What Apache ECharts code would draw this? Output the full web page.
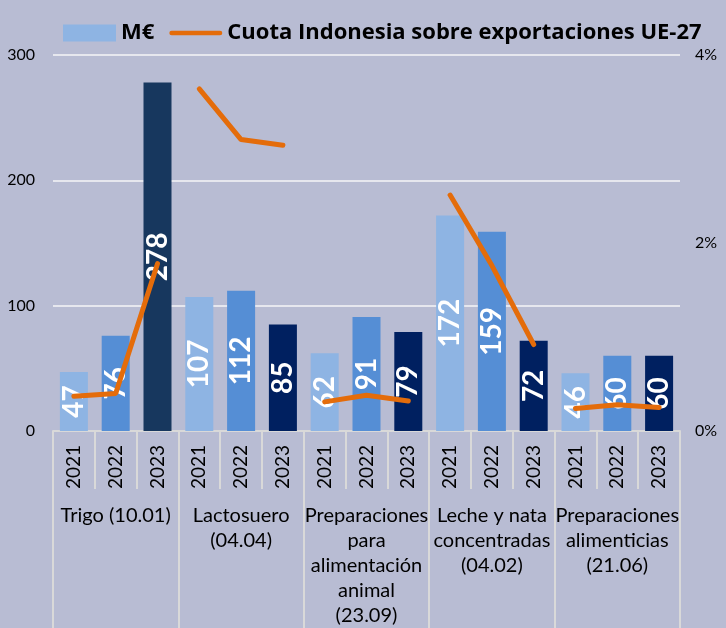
<!DOCTYPE html>
<html>
<head>
<meta charset="utf-8">
<script src="https://cdn.jsdelivr.net/npm/echarts@6/dist/echarts.min.js"></script>
<style>
  html, body { margin: 0; padding: 0; background: #b8bcd3; }
  #main { width: 726px; height: 628px; }
</style>
</head>
<body>
<div id="main"></div>
<script>
// grupos de producto y años
var groups = ['Trigo (10.01)', 'Lactosuero\n(04.04)', 'Preparaciones\npara\nalimentación\nanimal\n(23.09)', 'Leche y nata\nconcentradas\n(04.02)', 'Preparaciones\nalimenticias\n(21.06)'];
var years = ['2021', '2022', '2023'];
// M€ por grupo y año (en orden)
var valuesMEur = [47, 76, 278, 107, 112, 85, 62, 91, 79, 172, 159, 72, 46, 60, 60];
// cuota Indonesia sobre exportaciones UE-27 (%)
var sharePct = [0.37, 0.40, 1.78, 3.64, 3.10, 3.04, 0.31, 0.38, 0.32, 2.51, 1.76, 0.92, 0.24, 0.28, 0.25];

var yearColors = ['#8eb4e3', '#558ed5', '#002060'];
var lineName = 'Cuota Indonesia sobre exportaciones UE-27';
var FONT = 'Lato';

var xYears = [];
groups.forEach(function () { years.forEach(function (y) { xYears.push(y); }); });

var barData = valuesMEur.map(function (v, i) {
    var c = yearColors[i % 3];
    if (i === 2) c = '#17375e'; // Trigo 2023 un poco distinto
    return { value: v, itemStyle: { color: c } };
});

// una serie de línea por grupo para que no se unan
var lineSeries = groups.map(function (g, gi) {
    var d = sharePct.map(function (v, i) {
        return Math.floor(i / 3) === gi ? v / 100 : null;
    });
    return {
        type: 'line',
        name: lineName,
        yAxisIndex: 1,
        data: d,
        symbol: 'none',
        z: 5,
        lineStyle: { color: '#e46c0a', width: 5, cap: 'round' },
        itemStyle: { color: '#e46c0a' }
    };
});

var myChart = echarts.init(document.getElementById('main'));
var option = {
    backgroundColor: '#b8bcd3',
    textStyle: { fontFamily: FONT },
    legend: {
        left: 63,
        top: 22,
        width: 663,
        padding: 0,
        itemWidth: 53,
        itemHeight: 17,
        itemGap: 15,
        textStyle: { fontSize: 22, fontWeight: 'bold', color: '#000', fontFamily: 'Open Sans' },
        data: [
            { name: 'M€', icon: 'rect', itemStyle: { color: '#8eb4e3' } },
            { name: lineName, icon: 'path://M2.5,0 L54.5,0 A2.5,2.5 0 0 1 54.5,5 L2.5,5 A2.5,2.5 0 0 1 2.5,0 Z',
              itemStyle: { color: '#e46c0a' } }
        ]
    },
    grid: { left: 53, right: 46, top: 55, bottom: 194 },
    xAxis: [
        {
            type: 'category',
            position: 'bottom',
            data: xYears,
            axisLine: { lineStyle: { color: '#d9d9d9', width: 2 } },
            axisTick: { show: true, interval: 0, length: 58, lineStyle: { color: '#d9d9d9', width: 2 } },
            axisLabel: { interval: 0, rotate: 90, margin: 14, fontSize: 19, color: '#000', fontFamily: FONT }
        },
        {
            type: 'category',
            position: 'bottom',
            data: groups,
            axisLine: { show: false },
            axisTick: { show: true, interval: 0, length: 200, lineStyle: { color: '#d9d9d9', width: 2 } },
            axisLabel: {
                interval: 0, margin: 72, fontSize: 20, lineHeight: 25,
                color: '#000', fontFamily: FONT, verticalAlign: 'top'
            }
        }
    ],
    yAxis: [
        {
            type: 'value',
            min: 0, max: 300, interval: 100,
            axisLine: { show: false },
            axisTick: { show: false },
            axisLabel: { margin: 18, fontSize: 16, color: '#000', fontFamily: FONT },
            splitLine: { lineStyle: { color: '#e6e7ee', width: 2 } }
        },
        {
            type: 'value',
            min: 0, max: 0.04, interval: 0.02,
            axisLine: { show: false },
            axisTick: { show: false },
            axisLabel: {
                margin: 15, fontSize: 16, color: '#000', fontFamily: FONT,
                formatter: function (v) { return Math.round(v * 100) + '%'; }
            },
            splitLine: { show: false }
        }
    ],
    series: [
        {
            type: 'bar',
            name: 'M€',
            xAxisIndex: 0,
            yAxisIndex: 0,
            data: barData,
            barCategoryGap: '33%',
            itemStyle: { color: '#8eb4e3' },
            label: {
                show: true,
                position: 'inside',
                rotate: 90,
                color: '#fff',
                fontSize: 28,
                fontWeight: 'bold',
                fontFamily: FONT
            }
        }
    ].concat(lineSeries)
};
myChart.setOption(option);
</script>
</body>
</html>
